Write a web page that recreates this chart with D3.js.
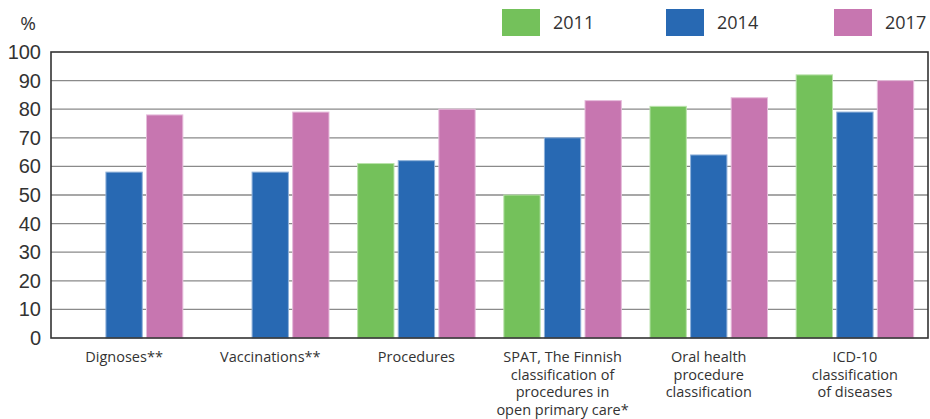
<!DOCTYPE html>
<html>
<head>
<meta charset="utf-8">
<script src="https://cdn.jsdelivr.net/npm/d3@7.9.0/dist/d3.min.js"></script>
<style>
  body { margin: 0; background: #fff; }
  svg { display: block; font-family: "Open Sans", "Noto Sans", sans-serif; }
</style>
</head>
<body>
<svg id="chart" width="930" height="419"></svg>
<script>
const categories = [
  ['Dignoses**'],
  ['Vaccinations**'],
  ['Procedures'],
  ['SPAT, The Finnish', 'classification of', 'procedures in', 'open primary care*'],
  ['Oral health', 'procedure', 'classification'],
  ['ICD-10', 'classification', 'of diseases']
];
const years = ['2011', '2014', '2017'];
const values2011 = [null, null, 61, 50, 81, 92];
const values2014 = [58, 58, 62, 70, 64, 79];
const values2017 = [78, 79, 80, 83, 84, 90];
const yTicks = [0, 10, 20, 30, 40, 50, 60, 70, 80, 90, 100];

const colors = { '2011': '#74c15b', '2014': '#2869b3', '2017': '#c776b0' };
const strokes = { '2011': '#b9e2ab', '2014': '#8fb1d9', '2017': '#e6bcdb' };

const series = { '2011': values2011, '2014': values2014, '2017': values2017 };

const svg = d3.select('#chart');
const plotL = 51, plotR = 928, plotT = 52, plotB = 338;

const x0 = d3.scaleBand()
  .domain(d3.range(categories.length))
  .range([plotL, plotR]);
const x1 = d3.scaleBand()
  .domain(years)
  .range([0, x0.bandwidth()])
  .paddingInner(0.105)
  .paddingOuter(0.353);
const y = d3.scaleLinear().domain([0, 100]).range([plotB, plotT]);

// gridlines
svg.append('g')
  .selectAll('line')
  .data(yTicks.filter(t => t > 0 && t < 100))
  .join('line')
  .attr('x1', plotL).attr('x2', plotR)
  .attr('y1', d => y(d)).attr('y2', d => y(d))
  .attr('stroke', '#8a8a8a')
  .attr('stroke-width', 1.3);

// bars
categories.forEach((cat, i) => {
  years.forEach(yr => {
    const v = series[yr][i];
    if (v == null) return;
    svg.append('rect')
      .attr('x', x0(i) + x1(yr))
      .attr('y', y(v))
      .attr('width', x1.bandwidth())
      .attr('height', y(0) - y(v))
      .attr('fill', colors[yr])
      .attr('stroke', strokes[yr])
      .attr('stroke-width', 1);
  });
});

// frame
svg.append('rect')
  .attr('x', plotL).attr('y', plotT)
  .attr('width', plotR - plotL).attr('height', plotB - plotT)
  .attr('fill', 'none')
  .attr('stroke', '#333')
  .attr('stroke-width', 1.6);

// y axis
const yAxis = svg.append('g')
  .attr('transform', `translate(${plotL},0)`)
  .call(d3.axisLeft(y).tickValues(yTicks).tickSize(0).tickPadding(10));
yAxis.select('.domain').remove();
yAxis.selectAll('text')
  .attr('font-size', 20)
  .attr('fill', '#333');

svg.append('text')
  .attr('x', 36).attr('y', 30)
  .attr('text-anchor', 'end')
  .attr('font-size', 19)
  .attr('fill', '#333')
  .text('%');

// category labels
categories.forEach((lines, i) => {
  const t = svg.append('text')
    .attr('x', x0(i) + x0.bandwidth() / 2)
    .attr('y', 362)
    .attr('text-anchor', 'middle')
    .attr('font-size', 14.5)
    .attr('fill', '#333');
  lines.forEach((ln, j) => {
    t.append('tspan')
      .attr('x', x0(i) + x0.bandwidth() / 2)
      .attr('dy', j === 0 ? 0 : 17.5)
      .text(ln);
  });
});

// legend
const legendX = [502, 666, 834];
years.forEach((yr, i) => {
  svg.append('rect')
    .attr('x', legendX[i]).attr('y', 9)
    .attr('width', 38).attr('height', 27)
    .attr('fill', colors[yr]);
  svg.append('text')
    .attr('x', legendX[i] + 51).attr('y', 29)
    .attr('font-size', 18)
    .attr('fill', '#333')
    .text(yr);
});
</script>
</body>
</html>
